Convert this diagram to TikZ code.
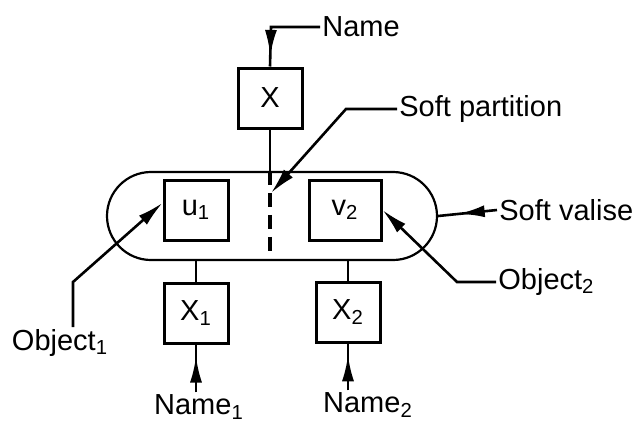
\documentclass[tikz,border=0pt]{standalone}
\usepackage{fontspec}
\setmainfont{Liberation Sans}
\usetikzlibrary{arrows.meta, decorations.markings}

\begin{document}
\begin{tikzpicture}[
        yscale=-1,
        x=0.5pt,
        y=0.5pt,
        font=\fontsize{14.5}{17}\selectfont,
        box/.style={draw, line width=1.5pt, minimum width=32pt, minimum height=30pt, inner sep=0pt},
        valise/.style={draw, line width=1.1pt, rounded corners=22pt, minimum width=165pt, minimum height=44pt},
        lbl/.style={inner sep=1pt},
        wire/.style={line width=1.3pt},
        tip/.style={wire, -{Latex[length=13pt, width=6pt]}},
        mid arrow/.style={wire, postaction={decorate},
            decoration={markings, mark=at position #1 with {\arrow{Latex[length=13pt, width=6pt]}}}}
    ]
    \useasboundingbox (0,0) rectangle (642,424);

    \node[valise] (valise) at (272,216) {};
    \node[box] (X) at (270,98) {X};
    \node[box] (u1) at (196,210) {u\textsubscript{1}};
    \node[box, minimum width=36pt] (u2) at (345,210) {v\textsubscript{2}};
    \node[box] (x1) at (196,313) {X\textsubscript{1}};
    \node[box] (x2) at (348,312) {X\textsubscript{2}};

    \node[lbl, anchor=west] (name) at (320,27) {Name};
    \node[lbl, anchor=west] (spart) at (397,109) {Soft partition};
    \node[lbl, anchor=west] (sval) at (497,210) {Soft valise};
    \node[lbl, anchor=west] (obj2) at (496,282) {Object\textsubscript{2}};
    \node[lbl] (obj1) at (60,343) {Object\textsubscript{1}};
    \node[lbl] (name1) at (199,407) {Name\textsubscript{1}};
    \node[lbl] (name2) at (368,405) {Name\textsubscript{2}};

    \coordinate (n0) at (271,27);
    \coordinate (sp) at (346,109);
    \coordinate (pt) at (271,193);
    \coordinate (o1a) at (73,327);
    \coordinate (o1b) at (73,282);
    \coordinate (o2) at (457,282);

    \draw[mid arrow=0.88] (name.west) -- (n0) -- (X.north);
    \draw[wire] (X.south) -- (X |- valise.north);
    \draw[wire, line width=1.6pt, dash pattern=on 7pt off 4pt] (X |- valise.north) -- (X |- valise.south);
    \draw[tip] (spart.west) -- (sp) -- (pt);
    \draw[mid arrow=0.65] (sval.west) -- (valise.east);
    \draw[tip] (o1a) -- (o1b) -- (u1.168);
    \draw[tip] (obj2.west) -- (o2) -- (u2.east);
    \draw[wire] (x1.north) -- (x1 |- valise.south);
    \draw[wire] (x2.north) -- (x2 |- valise.south);
    \draw[mid arrow=0.75] (x1 |- name1.north) -- (x1.south);
    \draw[mid arrow=0.75] (x2 |- name2.north) -- (x2.south);
\end{tikzpicture}
\end{document}
